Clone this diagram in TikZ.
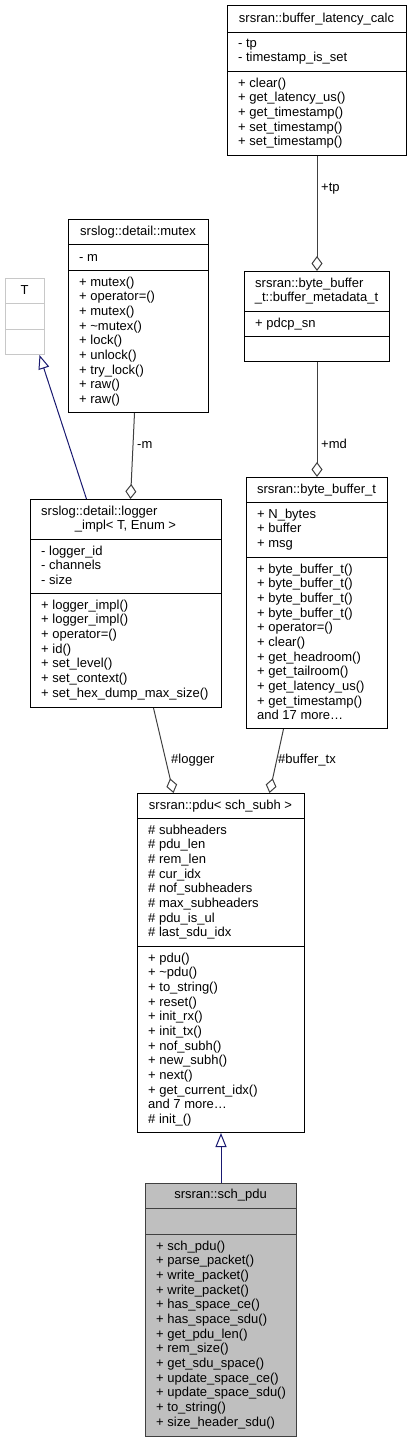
\documentclass[tikz,border=0pt]{standalone}
\usepackage{fontspec}
\setmainfont{Liberation Sans}
\usetikzlibrary{arrows.meta,calc}
\definecolor{edgegray}{HTML}{404040}
\definecolor{inhblue}{HTML}{191970}
\definecolor{hlgray}{HTML}{BFBFBF}
\definecolor{tgray}{HTML}{C8C8C8}
\tikzset{
  box/.style={draw=black, line width=1pt, inner sep=0pt, anchor=north west},
  sep/.style={draw=black, line width=1pt},
  txt/.style={anchor=base west, inner sep=0pt, font=\fontsize{13}{15}\selectfont},
  ttl/.style={anchor=base, inner sep=0pt, font=\fontsize{13}{15}\selectfont},
  agg/.style={draw=edgegray, line width=1pt, -{Diamond[open,length=15pt,width=11pt]}},
  inh/.style={draw=inhblue, line width=1pt, -{Triangle[open,length=14pt,width=11pt]}},
}
\newcommand\mlines[4]{\foreach \t [count=\i from 0] in {#4} {\node[txt] (#1\i) at (#2,{#3+14.67*\i}) {\t};}}
\begin{document}
\begin{tikzpicture}[x=1pt,y=-1pt]
\useasboundingbox (0,0) rectangle (411,1441);
\fill[white] (0,0) rectangle (411,1441);

% buffer_latency_calc
\node[box, minimum width=179pt, minimum height=150pt] (blc) at (227,5) {};
\draw[sep] (227,32) -- (406,32);
\draw[sep] (227,71) -- (406,71);
\node[ttl] (blct) at (316.5,22) {srsran::buffer\_latency\_calc};
\mlines{blca}{238}{47}{- tp,- timestamp\_is\_set}
\mlines{blcm}{238}{87}{+ clear(),+ get\_latency\_us(),+ get\_timestamp(),+ set\_timestamp(),+ set\_timestamp()}

% mutex
\node[box, minimum width=140pt, minimum height=193pt] (mutex) at (68,219) {};
\draw[sep] (68,244) -- (208,244);
\draw[sep] (68,270) -- (208,270);
\node[ttl] (mutext) at (138,235) {srslog::detail::mutex};
\mlines{mutexa}{79}{261}{- m}
\mlines{mutexm}{79}{286}{+ mutex(),+ operator=(),+ mutex(),+ \textasciitilde mutex(),+ lock(),+ unlock(),+ try\_lock(),+ raw(),+ raw()}

% T
\node[box, draw=tgray, minimum width=39pt, minimum height=76pt] (T) at (5,278) {};
\draw[draw=tgray, line width=1pt] (5,303) -- (44,303);
\draw[draw=tgray, line width=1pt] (5,329) -- (44,329);
\node[ttl] (Tt) at (24.5,294) {T};

% buffer_metadata_t
\node[box, minimum width=145pt, minimum height=90pt] (bmd) at (244,271) {};
\draw[sep] (244,311) -- (389,311);
\draw[sep] (244,336) -- (389,336);
\node[txt] (bmdt1) at (255,287) {srsran::byte\_buffer};
\node[ttl] (bmdt2) at (316.5,301.7) {\_t::buffer\_metadata\_t};
\mlines{bmda}{255}{327}{+ pdcp\_sn}

% logger_impl
\node[box, minimum width=191pt, minimum height=208pt] (logger) at (30,499) {};
\draw[sep] (30,539) -- (221,539);
\draw[sep] (30,593) -- (221,593);
\node[txt] (loggert1) at (41,515) {srslog::detail::logger};
\node[ttl] (loggert2) at (125.5,529.7) {\_impl< T, Enum >};
\mlines{loggera}{41}{555}{- logger\_id,- channels,- size}
\mlines{loggerm}{41}{609}{+ logger\_impl(),+ logger\_impl(),+ operator=(),+ id(),+ set\_level(),+ set\_context(),+ set\_hex\_dump\_max\_size()}

% byte_buffer_t
\node[box, minimum width=141pt, minimum height=251pt] (bb) at (246,477) {};
\draw[sep] (246,502) -- (387,502);
\draw[sep] (246,557) -- (387,557);
\node[ttl] (bbt) at (316.5,493) {srsran::byte\_buffer\_t};
\mlines{bba}{257}{518}{+ N\_bytes,+ buffer,+ msg}
\mlines{bbm}{257}{573}{+ byte\_buffer\_t(),+ byte\_buffer\_t(),+ byte\_buffer\_t(),+ byte\_buffer\_t(),+ operator=(),+ clear(),+ get\_headroom(),+ get\_tailroom(),+ get\_latency\_us(),+ get\_timestamp(),and 17 more\ldots}

% pdu
\node[box, minimum width=167pt, minimum height=339pt] (pdu) at (137,793) {};
\draw[sep] (137,818) -- (304,818);
\draw[sep] (137,946) -- (304,946);
\node[ttl] (pdut) at (220.5,809) {srsran::pdu< sch\_subh >};
\mlines{pdua}{148}{834}{\# subheaders,\# pdu\_len,\# rem\_len,\# cur\_idx,\# nof\_subheaders,\# max\_subheaders,\# pdu\_is\_ul,\# last\_sdu\_idx}
\mlines{pdum}{148}{962}{+ pdu(),+ \textasciitilde pdu(),+ to\_string(),+ reset(),+ init\_rx(),+ init\_tx(),+ nof\_subh(),+ new\_subh(),+ next(),+ get\_current\_idx(),and 7 more\ldots,\# init\_()}

% sch_pdu
\node[box, draw=edgegray, fill=hlgray, minimum width=151pt, minimum height=253pt] (sch) at (145,1183) {};
\draw[draw=edgegray, line width=1pt] (145,1208) -- (296,1208);
\draw[draw=edgegray, line width=1pt] (145,1234) -- (296,1234);
\node[ttl] (scht) at (220.5,1198) {srsran::sch\_pdu};
\mlines{schm}{156}{1250}{+ sch\_pdu(),+ parse\_packet(),+ write\_packet(),+ write\_packet(),+ has\_space\_ce(),+ has\_space\_sdu(),+ get\_pdu\_len(),+ rem\_size(),+ get\_sdu\_space(),+ update\_space\_ce(),+ update\_space\_sdu(),+ to\_string(),+ size\_header\_sdu()}

% connectors
\draw[agg] (blc.south) -- (bmd.north);
\node[txt] (ltp) at (321,191) {+tp};
\draw[agg] (bmd.south) -- (bb.north);
\node[txt] (lmd) at (321,448) {+md};
\draw[agg] ([xshift=-4pt]mutex.south) -- ([xshift=4.5pt]logger.north);
\node[txt] (lm) at (137,448) {-m};
\draw[inh] ([xshift=-39.5pt]logger.north) -- ([xshift=14.5pt]T.south);
\draw[agg] ([xshift=27.5pt]logger.south) -- ([xshift=-47.5pt]pdu.north);
\node[txt] (llog) at (171,763) {\#logger};
\draw[agg] ([xshift=-33.5pt]bb.south) -- ([xshift=48.5pt]pdu.north);
\node[txt] (lbtx) at (278,763) {\#buffer\_tx};
\draw[inh] (sch.north) -- (pdu.south);
\end{tikzpicture}
\end{document}
